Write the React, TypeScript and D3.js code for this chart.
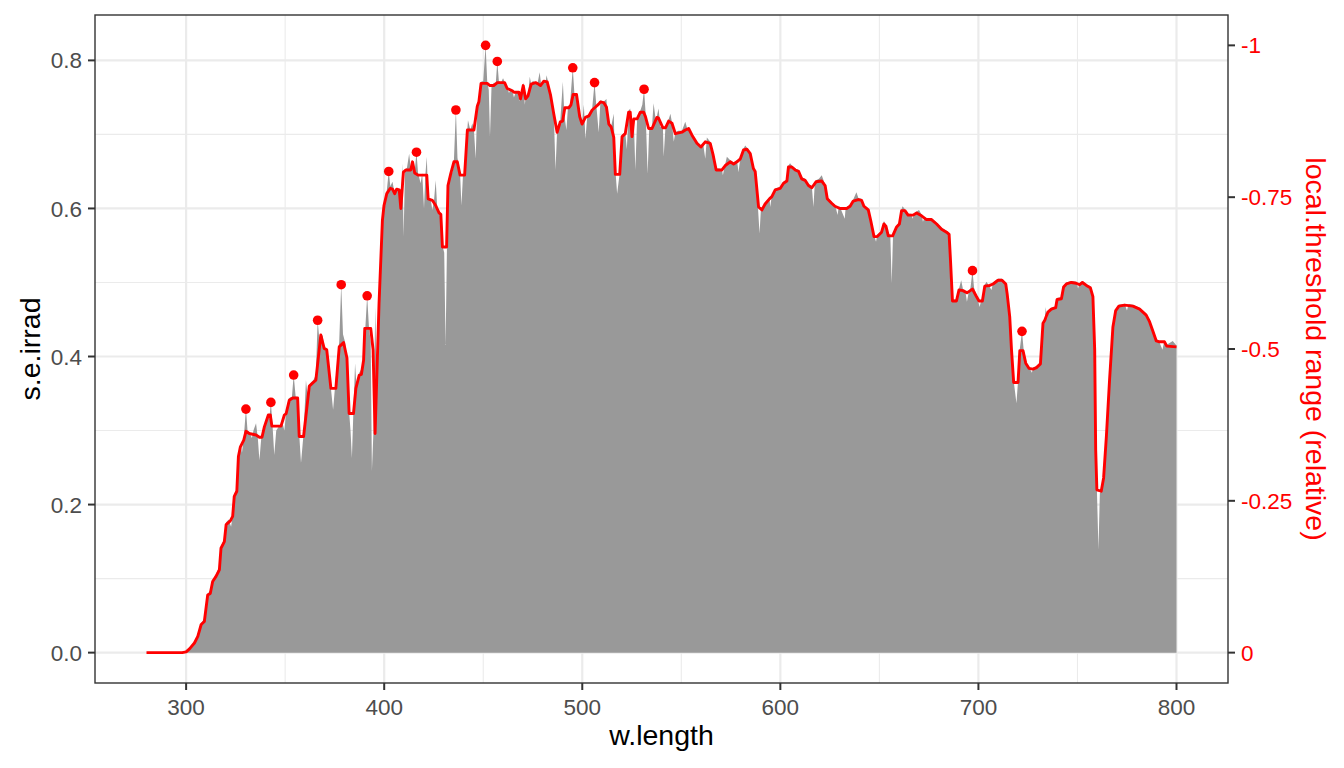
import React from 'react'
import * as d3 from 'd3'

const width = 1344
const height = 768
const panel = { left: 95, right: 1228, top: 15, bottom: 683 }

// solar spectral irradiance (grey area), [w.length, s.e.irrad]
const spectrum: [number, number][] = [
  [280, 0], [299, 0], [301.7, 0.006], [304.2, 0.014], [305.9, 0.024], [307.6, 0.04], [309.2, 0.046],
  [310.9, 0.08], [312.2, 0.084], [313.4, 0.098], [315.1, 0.106], [316.8, 0.116], [317.6, 0.143],
  [319.3, 0.155], [320.2, 0.176], [321.5, 0.18], [322.7, 0.17], [323.5, 0.186], [324.3, 0.214],
  [325.6, 0.222], [326.4, 0.268], [327.4, 0.282], [328.2, 0.27], [329.1, 0.29], [330.2, 0.329],
  [331, 0.3], [331.9, 0.298], [333.2, 0.29], [334, 0.3], [335.3, 0.31], [336.2, 0.29], [337, 0.26],
  [338, 0.292], [339.5, 0.308], [341, 0.32], [342, 0.316], [342.8, 0.338], [343.6, 0.308],
  [344.5, 0.267], [345.5, 0.3], [347, 0.306], [348.7, 0.31], [349.6, 0.3], [350.5, 0.325],
  [351.7, 0.343], [352.6, 0.345], [353.4, 0.345], [354.3, 0.375], [355.3, 0.346], [356.3, 0.345],
  [357.1, 0.295], [358, 0.256], [359.3, 0.296], [360.5, 0.368], [361.2, 0.35], [362.2, 0.362],
  [364.2, 0.368], [365.5, 0.375], [366.4, 0.449], [367.2, 0.425], [368, 0.43], [369, 0.428],
  [369.7, 0.412], [371, 0.41], [372, 0.38], [373, 0.36], [374.2, 0.328], [375.2, 0.36], [376.5, 0.4],
  [377.3, 0.42], [378.3, 0.497], [379.2, 0.43], [380.2, 0.42], [381.2, 0.4], [382.3, 0.325],
  [383, 0.3], [383.7, 0.263], [384.5, 0.33], [385.3, 0.391], [386, 0.36], [387.4, 0.378],
  [389, 0.385], [389.6, 0.4], [390.5, 0.44], [391.4, 0.482], [392.3, 0.44], [393.2, 0.42],
  [393.8, 0.245], [394.6, 0.3], [395.5, 0.467], [396.2, 0.35], [397.4, 0.475], [399.1, 0.588],
  [399.9, 0.606], [401.3, 0.624], [402.3, 0.65], [403.1, 0.63], [404.2, 0.636], [405.3, 0.62],
  [406.5, 0.628], [407.5, 0.625], [408.4, 0.6], [409.2, 0.661], [409.8, 0.562], [410.5, 0.652],
  [411.5, 0.655], [412.6, 0.674], [413.4, 0.655], [414.3, 0.665], [415.4, 0.65], [416.3, 0.676],
  [417.1, 0.648], [418.4, 0.634], [419.2, 0.648], [420.1, 0.6], [420.8, 0.646], [421.5, 0.67],
  [422.2, 0.615], [423.5, 0.612], [424.3, 0.598], [425.2, 0.612], [426, 0.638], [426.8, 0.6],
  [427.7, 0.596], [428.6, 0.594], [429.4, 0.55], [430.3, 0.54], [431, 0.4155], [431.7, 0.55],
  [432.2, 0.633], [433, 0.64], [433.9, 0.655], [434.6, 0.648], [435.2, 0.665], [436.2, 0.733],
  [437, 0.668], [438.3, 0.648], [439, 0.604], [439.8, 0.646], [440.6, 0.648], [442, 0.708],
  [442.3, 0.719], [443.5, 0.706], [444.5, 0.715], [445.3, 0.706], [446.2, 0.667], [447, 0.74],
  [447.8, 0.746], [448.9, 0.771], [450, 0.772], [451.2, 0.8203], [452, 0.772], [452.8, 0.76],
  [453.4, 0.697], [454.2, 0.766], [455.5, 0.77], [456.3, 0.768], [457.1, 0.7986], [457.9, 0.772],
  [459, 0.77], [460, 0.776], [460.8, 0.771], [462.1, 0.764], [463, 0.756], [464, 0.762],
  [464.7, 0.759], [465.5, 0.75], [466.5, 0.758], [467.5, 0.757], [468.3, 0.745], [468.8, 0.75],
  [470.2, 0.77], [471, 0.74], [471.4, 0.75], [472.6, 0.753], [473.5, 0.778], [474.2, 0.768],
  [475, 0.772], [476.4, 0.77], [477.5, 0.77], [478.5, 0.784], [479.3, 0.766], [480.6, 0.774],
  [481.5, 0.771], [482, 0.78], [482.8, 0.77], [484, 0.755], [485.6, 0.73], [486.5, 0.652],
  [487.3, 0.705], [488.9, 0.718], [490.2, 0.771], [491, 0.725], [492, 0.706], [492.8, 0.738],
  [493.8, 0.74], [495.2, 0.79], [496, 0.756], [497.1, 0.756], [498, 0.74], [498.7, 0.726],
  [499.9, 0.716], [500.8, 0.74], [501.6, 0.694], [502.5, 0.724], [503.5, 0.728], [505, 0.735],
  [506.2, 0.77], [507, 0.742], [508.3, 0.703], [509.2, 0.746], [510.8, 0.744], [512.2, 0.748],
  [513, 0.716], [514.6, 0.711], [515.9, 0.728], [516.5, 0.66], [517.6, 0.62], [518.9, 0.648],
  [520.1, 0.7], [521.7, 0.703], [522.5, 0.68], [523.4, 0.732], [524.2, 0.735], [525.1, 0.7],
  [526, 0.722], [526.8, 0.652], [527.7, 0.722], [529.3, 0.732], [530.3, 0.74], [531.2, 0.761],
  [532, 0.728], [533, 0.647], [533.8, 0.708], [535.2, 0.71], [536, 0.742], [537, 0.722],
  [537.7, 0.725], [538.5, 0.735], [539.5, 0.71], [540.7, 0.71], [541.1, 0.67], [542, 0.71],
  [543.6, 0.72], [544.5, 0.728], [545.3, 0.716], [546.2, 0.69], [547, 0.703], [548.5, 0.705],
  [550.3, 0.705], [552, 0.717], [553, 0.708], [553.7, 0.71], [555.4, 0.701], [557.9, 0.69],
  [559.9, 0.685], [561, 0.688], [562.1, 0.667], [562.9, 0.696], [564.6, 0.69], [566, 0.675],
  [567.6, 0.654], [569, 0.654], [570.5, 0.653], [571, 0.645], [571.8, 0.656], [572.2, 0.66],
  [573, 0.67], [574.7, 0.665], [576.4, 0.662], [578.1, 0.665], [578.9, 0.649], [579.8, 0.669],
  [581.4, 0.681], [582.3, 0.685], [583.1, 0.682], [584.8, 0.676], [586.4, 0.656], [587.3, 0.652],
  [588.5, 0.61], [589.5, 0.566], [590.2, 0.6], [590.7, 0.6], [592.3, 0.608], [594.5, 0.615],
  [594.9, 0.602], [595.7, 0.618], [597.4, 0.627], [599.9, 0.629], [601.6, 0.636], [603.3, 0.639],
  [604.1, 0.658], [604.9, 0.661], [605.8, 0.658], [607.5, 0.654], [609.2, 0.652], [610.8, 0.642],
  [612.5, 0.64], [614.2, 0.633], [615.9, 0.63], [616.7, 0.602], [617.3, 0.63], [618, 0.638],
  [619.5, 0.64], [620.9, 0.645], [621.8, 0.638], [622.6, 0.633], [623.7, 0.615], [625.9, 0.609],
  [627.6, 0.605], [628.9, 0.591], [629.5, 0.603], [630.1, 0.602], [632.5, 0.586], [633, 0.602],
  [633.5, 0.602], [635.2, 0.605], [636.8, 0.612], [638.4, 0.622], [639.4, 0.614], [641, 0.613],
  [642.2, 0.605], [644.4, 0.6], [645.6, 0.586], [647.3, 0.564], [648.3, 0.555], [648.9, 0.564],
  [651.1, 0.57], [652.3, 0.583], [653.3, 0.578], [654.5, 0.565], [655.5, 0.565], [656.2, 0.499],
  [656.9, 0.565], [658.7, 0.577], [660.1, 0.581], [661.2, 0.599], [661.7, 0.603], [662.9, 0.599],
  [664.5, 0.593], [666, 0.593], [666.8, 0.586], [667.5, 0.593], [668.8, 0.596], [670, 0.598],
  [671.3, 0.592], [672, 0.582], [672.8, 0.588], [673.8, 0.587], [676.3, 0.587], [678.9, 0.581],
  [681.4, 0.574], [683.9, 0.57], [685.2, 0.567], [685.9, 0.532], [686.9, 0.477], [688.9, 0.477],
  [690.2, 0.492], [691.3, 0.503], [692.2, 0.491], [693.4, 0.488], [694.2, 0.474], [695.2, 0.488],
  [696, 0.493], [697, 0.516], [697.8, 0.493], [699, 0.483], [700.6, 0.467], [701.5, 0.477],
  [702, 0.477], [703.2, 0.497], [704.1, 0.501], [705, 0.497], [706.6, 0.49], [707.4, 0.5],
  [709.9, 0.505], [711.9, 0.505], [713.8, 0.5], [714.5, 0.487], [715.8, 0.456], [716.7, 0.411],
  [717.8, 0.367], [719.2, 0.337], [720, 0.367], [720.9, 0.41], [722, 0.434], [722.8, 0.41],
  [723.9, 0.393], [725.5, 0.386], [727, 0.378], [727.6, 0.385], [729.3, 0.387], [731.3, 0.392],
  [732.6, 0.447], [733.5, 0.451], [734, 0.467], [734.6, 0.45], [735.1, 0.462], [736.8, 0.466],
  [739, 0.468], [739.7, 0.479], [741.9, 0.48], [743, 0.496], [744.4, 0.5], [746.9, 0.502],
  [749.4, 0.501], [750.3, 0.492], [751.1, 0.499], [752.5, 0.502], [754.5, 0.498], [756.5, 0.495],
  [757.8, 0.483], [758.7, 0.411], [759.2, 0.276], [759.8, 0.222], [760.6, 0.139], [761.3, 0.215],
  [762, 0.22], [763.2, 0.238], [764.6, 0.294], [766.2, 0.37], [767.9, 0.442], [769.3, 0.464],
  [770.9, 0.47], [773.8, 0.471], [775, 0.462], [775.8, 0.471], [778, 0.47], [781.4, 0.466],
  [784.7, 0.458], [786.4, 0.449], [788.1, 0.436], [789.8, 0.423], [791, 0.422], [792.9, 0.409],
  [793.9, 0.422], [795.1, 0.416], [798.1, 0.421], [800, 0.415],
]

// local threshold line (red), [w.length, s.e.irrad]
const threshold: [number, number][] = [
  [280, 0], [298, 0], [300, 0.001], [301.7, 0.005], [304.2, 0.013], [305.9, 0.022], [307.6, 0.038],
  [309.2, 0.042], [310.9, 0.078], [312.2, 0.08], [313.4, 0.096], [315.1, 0.103], [316.8, 0.112],
  [317.6, 0.141], [319.3, 0.15], [320.2, 0.173], [322.3, 0.178], [323.5, 0.184], [324.3, 0.211],
  [325.6, 0.218], [326.4, 0.265], [327.4, 0.278], [329.1, 0.287], [330.2, 0.299], [331.9, 0.296],
  [335.3, 0.294], [337, 0.291], [338.3, 0.291], [339.5, 0.305], [341.5, 0.321], [342.5, 0.321],
  [343.3, 0.306], [347.9, 0.306], [349.6, 0.321], [350.5, 0.323], [352.1, 0.341], [353.8, 0.344],
  [356.3, 0.344], [357.1, 0.292], [359.3, 0.292], [362.2, 0.36], [364.2, 0.365], [365.5, 0.368],
  [368, 0.429], [369.7, 0.411], [371, 0.409], [373.1, 0.357], [375.6, 0.357], [377.3, 0.413],
  [379.5, 0.419], [381.2, 0.398], [382.3, 0.323], [384.5, 0.323], [385.7, 0.357], [387.4, 0.375],
  [388.5, 0.376], [389.6, 0.395], [390.2, 0.438], [393.2, 0.438], [394.4, 0.409], [395.4, 0.296],
  [397.4, 0.472], [399.1, 0.584], [399.9, 0.604], [401.3, 0.62], [403, 0.627], [404.2, 0.626],
  [405.3, 0.62], [406.3, 0.626], [407.6, 0.625], [408.4, 0.6], [409.7, 0.649], [410.9, 0.652],
  [413.4, 0.652], [414.3, 0.663], [415.4, 0.648], [417.1, 0.645], [421.5, 0.645], [422.2, 0.613],
  [424.3, 0.611], [426, 0.604], [427.7, 0.594], [428.6, 0.592], [429.4, 0.548], [431.5, 0.548],
  [432.2, 0.631], [433.6, 0.647], [435.2, 0.663], [436.9, 0.663], [438.3, 0.645], [440.6, 0.645],
  [442, 0.706], [445.3, 0.706], [447, 0.738], [447.8, 0.744], [448.9, 0.769], [452, 0.769],
  [453.4, 0.766], [455.3, 0.766], [457.1, 0.77], [460.8, 0.77], [462.1, 0.762], [464.7, 0.759],
  [465.5, 0.757], [468, 0.757], [468.8, 0.748], [470.2, 0.766], [471.4, 0.748], [472.6, 0.752],
  [474.2, 0.768], [476.4, 0.77], [477.8, 0.768], [478.9, 0.766], [480.6, 0.772], [482.3, 0.771],
  [484, 0.753], [485.6, 0.728], [487.3, 0.703], [488.9, 0.717], [490.1, 0.718], [491.2, 0.736],
  [493.2, 0.736], [494.3, 0.74], [495.4, 0.754], [497.1, 0.754], [498.7, 0.724], [499.9, 0.714],
  [501.6, 0.723], [503.3, 0.725], [505, 0.733], [506.7, 0.737], [508.3, 0.741], [509.2, 0.744],
  [510.8, 0.743], [512.2, 0.737], [513.4, 0.714], [514.6, 0.71], [515.9, 0.696], [516.7, 0.646],
  [518.9, 0.646], [520.1, 0.697], [521.7, 0.701], [523.4, 0.73], [524.2, 0.73], [525.1, 0.697],
  [526, 0.721], [527.7, 0.721], [529.3, 0.73], [531, 0.73], [531.9, 0.724], [533.5, 0.708],
  [535.2, 0.708], [537.7, 0.723], [538.5, 0.722], [540.7, 0.709], [542, 0.709], [543.6, 0.718],
  [545.3, 0.715], [547, 0.701], [550.3, 0.703], [552, 0.706], [553.7, 0.708], [555.4, 0.699],
  [557.9, 0.688], [559.9, 0.683], [562.1, 0.69], [564.6, 0.688], [566, 0.673], [567.6, 0.652],
  [570.5, 0.652], [572.2, 0.658], [574.7, 0.663], [576.4, 0.66], [578.1, 0.663], [579.8, 0.667],
  [581.4, 0.679], [583.1, 0.68], [584.8, 0.674], [586.4, 0.654], [587.3, 0.65], [589, 0.602],
  [590.7, 0.598], [592.3, 0.606], [594.5, 0.613], [595.7, 0.616], [597.4, 0.625], [599.9, 0.627],
  [601.6, 0.634], [603.3, 0.637], [604.1, 0.656], [605.8, 0.656], [607.5, 0.652], [609.2, 0.65],
  [610.8, 0.64], [612.5, 0.638], [614.2, 0.631], [615.9, 0.628], [618, 0.636], [620.9, 0.637],
  [622.6, 0.631], [623.7, 0.613], [625.9, 0.607], [627.6, 0.603], [630.1, 0.6], [633.5, 0.6],
  [635.2, 0.603], [636.8, 0.61], [639.4, 0.612], [641, 0.611], [642.2, 0.603], [644.4, 0.598],
  [645.6, 0.584], [647.3, 0.562], [648.9, 0.562], [651.1, 0.568], [652.3, 0.579], [653.3, 0.576],
  [654.5, 0.563], [656.7, 0.563], [658.7, 0.575], [660.1, 0.579], [661.2, 0.597], [662.9, 0.597],
  [664.5, 0.591], [667, 0.591], [668.8, 0.594], [671.3, 0.59], [673.8, 0.585], [676.3, 0.585],
  [678.9, 0.579], [681.4, 0.572], [683.9, 0.568], [685.2, 0.565], [685.9, 0.53], [686.9, 0.475],
  [688.9, 0.475], [690.2, 0.49], [692.2, 0.489], [694.2, 0.486], [697, 0.491], [699, 0.481],
  [700.3, 0.475], [702, 0.475], [703.2, 0.495], [705.7, 0.496], [707.4, 0.498], [709.9, 0.503],
  [711.9, 0.503], [713.8, 0.498], [714.5, 0.485], [715.8, 0.454], [716.7, 0.409], [717.8, 0.365],
  [720, 0.365], [720.9, 0.408], [722.5, 0.408], [723.9, 0.391], [725.5, 0.384], [727.6, 0.383],
  [729.3, 0.385], [731.3, 0.39], [732.6, 0.445], [733.5, 0.449], [735.1, 0.46], [736.8, 0.464],
  [739, 0.466], [739.7, 0.477], [741.9, 0.478], [743, 0.494], [744.4, 0.498], [746.9, 0.5],
  [749.4, 0.499], [751.1, 0.497], [752.5, 0.5], [754.5, 0.496], [756.5, 0.493], [757.8, 0.481],
  [758.7, 0.409], [759.2, 0.274], [759.8, 0.22], [762, 0.218], [763.2, 0.236], [764.6, 0.292],
  [766.2, 0.368], [767.9, 0.44], [769.3, 0.462], [770.9, 0.468], [773.8, 0.4695], [778, 0.468],
  [781.4, 0.464], [784.7, 0.456], [786.4, 0.447], [788.1, 0.434], [789.8, 0.421], [791, 0.42],
  [793.9, 0.42], [795.1, 0.414], [800, 0.413],
]

// detected peaks
const peaks: [number, number][] = [
  [330.2, 0.329], [342.8, 0.338], [354.3, 0.375], [366.4, 0.449], [378.3, 0.497], [391.4, 0.482],
  [402.3, 0.65], [416.3, 0.676], [436.2, 0.733], [451.2, 0.8203], [457.1, 0.7986], [495.2, 0.79],
  [506.2, 0.77], [531.2, 0.761], [697, 0.516], [722, 0.434],
]

const xTicks = [300, 400, 500, 600, 700, 800]
const xMinor = [350, 450, 550, 650, 750]
const yTicks = [0, 0.2, 0.4, 0.6, 0.8]
const yMinor = [0.1, 0.3, 0.5, 0.7]
const rightTicks = [0, -0.25, -0.5, -0.75, -1]

const font = '"Liberation Sans", Arial, sans-serif'

export default function App() {
  const [w0, w1] = d3.extent(spectrum, d => d[0]) as [number, number]
  const vMax = d3.max(spectrum, d => d[1]) as number
  const xPad = (w1 - w0) * 0.05
  const yPad = vMax * 0.05

  const x = d3.scaleLinear().domain([w0 - xPad, w1 + xPad]).range([panel.left, panel.right])
  const y = d3.scaleLinear().domain([-yPad, vMax + yPad]).range([panel.bottom, panel.top])
  // secondary axis: threshold relative to the maximum, sign reversed
  const yr = d3.scaleLinear().domain([yPad / vMax, -(vMax + yPad) / vMax]).range([panel.bottom, panel.top])

  const area = d3.area<[number, number]>().x(d => x(d[0])).y0(y(0)).y1(d => y(d[1]))
  const line = d3.line<[number, number]>().x(d => x(d[0])).y(d => y(d[1]))

  const grid = '#EBEBEB'
  const dark = '#333333'
  const labelCol = '#4D4D4D'

  return (
    <svg width={width} height={height} style={{ position: 'absolute', left: 0, top: 0, background: '#fff' }} fontFamily={font}>
      <rect x={0} y={0} width={width} height={height} fill="#fff" />
      <defs>
        <clipPath id="panel-clip">
          <rect x={panel.left} y={panel.top} width={panel.right - panel.left} height={panel.bottom - panel.top} />
        </clipPath>
      </defs>

      {/* grid */}
      {xMinor.map(t => (
        <line key={'xm' + t} x1={x(t)} x2={x(t)} y1={panel.top} y2={panel.bottom} stroke={grid} strokeWidth={1.1} />
      ))}
      {yMinor.map(t => (
        <line key={'ym' + t} x1={panel.left} x2={panel.right} y1={y(t)} y2={y(t)} stroke={grid} strokeWidth={1.1} />
      ))}
      {xTicks.map(t => (
        <line key={'xg' + t} x1={x(t)} x2={x(t)} y1={panel.top} y2={panel.bottom} stroke={grid} strokeWidth={2.2} />
      ))}
      {yTicks.map(t => (
        <line key={'yg' + t} x1={panel.left} x2={panel.right} y1={y(t)} y2={y(t)} stroke={grid} strokeWidth={2.2} />
      ))}

      <g clipPath="url(#panel-clip)">
        <path d={area(spectrum) ?? ''} fill="#999999" />
        <path d={line(threshold) ?? ''} fill="none" stroke="#FF0000" strokeWidth={2.9} strokeLinejoin="round" />
        {peaks.map((p, i) => (
          <circle key={i} cx={x(p[0])} cy={y(p[1])} r={4.8} fill="#FF0000" />
        ))}
      </g>

      <rect x={panel.left} y={panel.top} width={panel.right - panel.left} height={panel.bottom - panel.top}
        fill="none" stroke={dark} strokeWidth={1.4} />

      {/* bottom axis */}
      {xTicks.map(t => (
        <g key={'xt' + t}>
          <line x1={x(t)} x2={x(t)} y1={panel.bottom} y2={panel.bottom + 7} stroke={dark} strokeWidth={2} />
          <text x={x(t)} y={panel.bottom + 32} textAnchor="middle" fontSize={22.5} fill={labelCol}>{t}</text>
        </g>
      ))}
      <text x={(panel.left + panel.right) / 2} y={745} textAnchor="middle" fontSize={28.5} fill="#000">w.length</text>

      {/* left axis */}
      {yTicks.map(t => (
        <g key={'yt' + t}>
          <line x1={panel.left - 7} x2={panel.left} y1={y(t)} y2={y(t)} stroke={dark} strokeWidth={2} />
          <text x={panel.left - 13} y={y(t)} dy="0.36em" textAnchor="end" fontSize={22.5} fill={labelCol}>{d3.format('.1f')(t)}</text>
        </g>
      ))}
      <text transform={`translate(40,${(panel.top + panel.bottom) / 2}) rotate(-90)`} textAnchor="middle" fontSize={28.5} fill="#000">s.e.irrad</text>

      {/* right axis */}
      {rightTicks.map(t => (
        <g key={'rt' + t}>
          <line x1={panel.right} x2={panel.right + 7} y1={yr(t)} y2={yr(t)} stroke={dark} strokeWidth={2} />
          <text x={panel.right + 13} y={yr(t)} dy="0.36em" textAnchor="start" fontSize={22.5} fill="#FF0000">{String(t)}</text>
        </g>
      ))}
      <text transform={`translate(1306,${(panel.top + panel.bottom) / 2}) rotate(90)`} textAnchor="middle" fontSize={28.5} fill="#FF0000">local.threshold range (relative)</text>
    </svg>
  )
}
